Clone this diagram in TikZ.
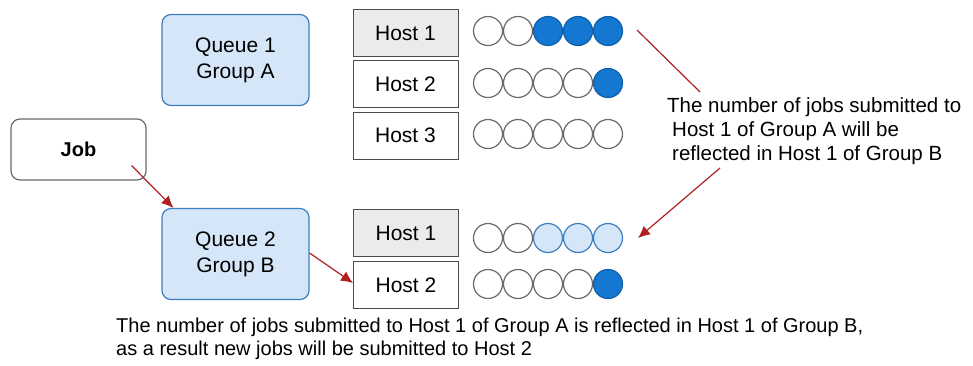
\documentclass[tikz,border=0pt]{standalone}
\usepackage{fontspec}
\setmainfont{Liberation Sans}
\usetikzlibrary{arrows.meta}
\definecolor{qfill}{HTML}{D4E6F7}
\definecolor{qdraw}{HTML}{3C7FC0}
\definecolor{dblue}{HTML}{1477D2}
\definecolor{hfill}{HTML}{EBEBEB}
\definecolor{arr}{HTML}{B02020}
\definecolor{cdraw}{HTML}{6A6A6A}
\tikzset{
  queue/.style={draw=qdraw,fill=qfill,rounded corners=9pt,line width=1.2pt,minimum width=147pt,minimum height=91pt,align=center,font=\fontsize{21}{26}\selectfont},
  jobbox/.style={draw=cdraw,fill=white,rounded corners=9pt,line width=1.2pt,minimum width=135pt,minimum height=61pt,font=\fontsize{20}{24}\selectfont\bfseries},
  hostbox/.style={draw=black!70,line width=1pt,minimum width=105pt,minimum height=47pt,font=\fontsize{21}{24}\selectfont},
  slot/.style={circle,draw=cdraw,line width=1.2pt,minimum size=29pt,inner sep=0pt,fill=white},
  slotfull/.style={slot,draw=dblue!80!black,fill=dblue},
  slotlight/.style={slot,draw=qdraw,fill=qfill},
  redarrow/.style={draw=arr,line width=1.2pt,-{Latex[length=12pt,width=11pt]}},
  redline/.style={draw=arr,line width=1.2pt},
  note/.style={font=\fontsize{20.5}{24}\selectfont,align=left,inner sep=0pt,anchor=north west},
  bnote/.style={font=\fontsize{20}{23}\selectfont,align=left,inner sep=0pt,anchor=north west}
}
\begin{document}
\begin{tikzpicture}[x=1pt,y=-1pt]
\useasboundingbox (0,0) rectangle (973,365);
% queues and job
\node[queue] (q1) at (235.5,60) {Queue 1\\Group A};
\node[queue] (q2) at (235.5,254) {Queue 2\\Group B};
\node[jobbox] (job) at (78.5,149.5) {Job};
% hosts group A
\node[hostbox,fill=hfill] (a1) at (405.5,33) {Host 1};
\node[hostbox,fill=white] (a2) at (405.5,84) {Host 2};
\node[hostbox,fill=white] (a3) at (405.5,135.5) {Host 3};
% hosts group B
\node[hostbox,fill=hfill] (b1) at (406,233) {Host 1};
\node[hostbox,fill=white] (b2) at (406,285) {Host 2};
% slots
\foreach \i/\s in {1/slot,2/slot,3/slotfull,4/slotfull,5/slotfull}
  \node[\s] (ra\i) at (458+30*\i,31) {};
\foreach \i/\s in {1/slot,2/slot,3/slot,4/slot,5/slotfull}
  \node[\s] (rb\i) at (458+30*\i,83) {};
\foreach \i/\s in {1/slot,2/slot,3/slot,4/slot,5/slot}
  \node[\s] (rc\i) at (458+30*\i,134) {};
\foreach \i/\s in {1/slot,2/slot,3/slotlight,4/slotlight,5/slotlight}
  \node[\s] (rd\i) at (458+30*\i,238) {};
\foreach \i/\s in {1/slot,2/slot,3/slot,4/slot,5/slotfull}
  \node[\s] (re\i) at (458+30*\i,284) {};
% annotation text
\node[note] (n1) at (667,97) {The number of jobs submitted to\\[0pt]\hspace*{5pt}Host 1 of Group A will be\\[0pt]\hspace*{5pt}reflected in Host 1 of Group B};
\node[bnote] (n2) at (116,318) {The number of jobs submitted to Host 1 of Group A is reflected in Host 1 of Group B,\\as a result new jobs will be submitted to Host 2};
% connectors
\coordinate (t1) at (637,30);
\coordinate (t2) at (700,92);
\coordinate (u1) at (720,168);
\coordinate (u2) at (638,238);
\draw[redline] (t1) -- (t2);
\draw[redarrow] (u1) -- (u2);
\draw[redarrow] ([xshift=-15pt,yshift=15pt]job.south east) -- ([xshift=12pt]q2.north west);
\draw[redarrow] ([yshift=1pt]q2.east) -- ([yshift=2pt]b2.west);
\end{tikzpicture}
\end{document}
